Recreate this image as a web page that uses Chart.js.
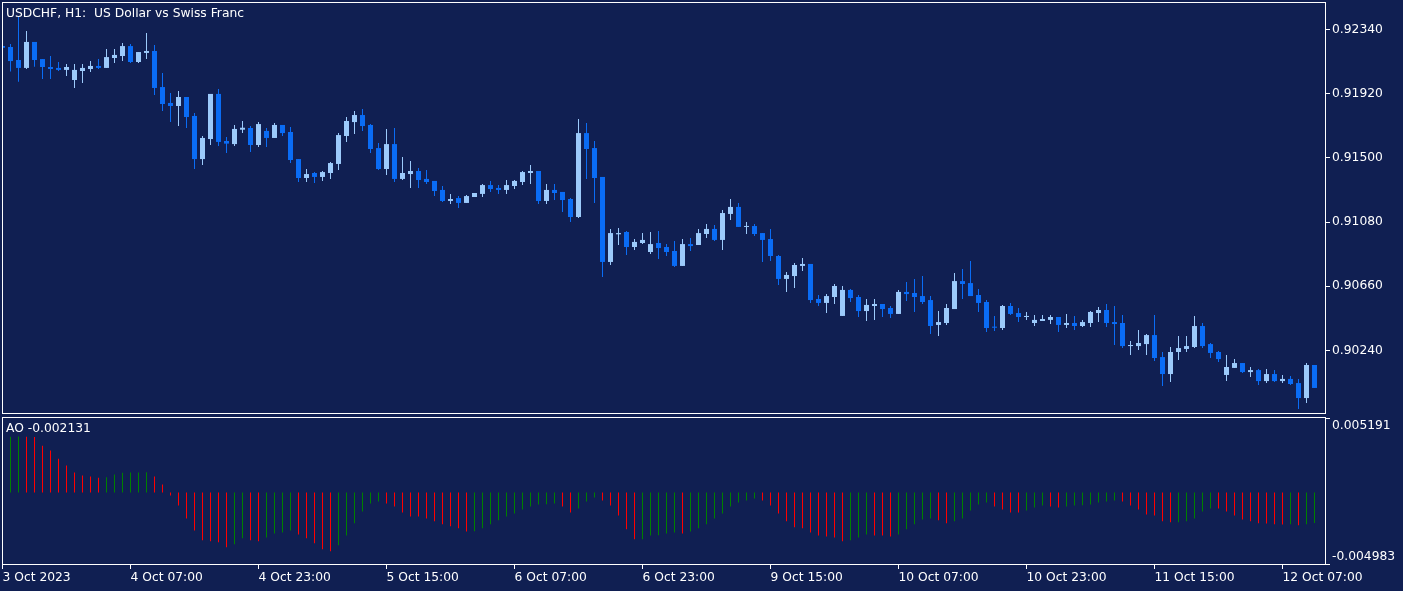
<!DOCTYPE html>
<html>
<head>
<meta charset="utf-8">
<script src="https://cdn.jsdelivr.net/npm/chart.js@4.4.1/dist/chart.umd.min.js"></script>
<style>
  html, body { margin: 0; padding: 0; width: 1403px; height: 591px; overflow: hidden; background: #101f52; }
  canvas { position: absolute; left: 0; }
  #price { top: 0; }
  #ao { top: 415px; }
  .caption { position: absolute; left: 6px; color: #fff; font: 12.3px "DejaVu Sans"; white-space: pre; line-height: 15px; }
</style>
</head>
<body>
<canvas id="price" width="1403" height="415"></canvas>
<canvas id="ao" width="1403" height="176"></canvas>
<div class="caption" style="top:6px">USDCHF, H1:  US Dollar vs Swiss Franc</div>
<div class="caption" style="top:421px">AO -0.002131</div>
<script>
// USDCHF H1, 3 Oct 15:00 .. 12 Oct 11:00 (one entry per hourly bar)
const candleOpen = [
  0.92231, 0.92225, 0.92140, 0.92088, 0.92258, 0.92146, 0.92094, 0.92088, 0.92075, 0.92009,
  0.92068, 0.92081, 0.92101, 0.92088, 0.92153, 0.92166, 0.92231, 0.92127, 0.92186, 0.92199,
  0.91963, 0.91859, 0.91839, 0.91898, 0.91774, 0.91492, 0.91623, 0.91918, 0.91610, 0.91590,
  0.91684, 0.91695, 0.91584, 0.91676, 0.91630, 0.91715, 0.91669, 0.91492, 0.91368, 0.91401,
  0.91375, 0.91401, 0.91460, 0.91643, 0.91734, 0.91780, 0.91715, 0.91564, 0.91427, 0.91590,
  0.91362, 0.91394, 0.91414, 0.91362, 0.91349, 0.91290, 0.91218, 0.91237, 0.91205, 0.91244,
  0.91264, 0.91322, 0.91303, 0.91290, 0.91316, 0.91342, 0.91401, 0.91414, 0.91218, 0.91290,
  0.91277, 0.91231, 0.91113, 0.91662, 0.91564, 0.91375, 0.90819, 0.91000, 0.91015, 0.90917,
  0.90943, 0.90884, 0.90943, 0.90917, 0.90891, 0.90793, 0.90936, 0.90930, 0.91002, 0.91035,
  0.90963, 0.91133, 0.91179, 0.91048, 0.91054, 0.91008, 0.90969, 0.90858, 0.90708, 0.90727,
  0.90793, 0.90806, 0.90577, 0.90551, 0.90590, 0.90466, 0.90636, 0.90590, 0.90498, 0.90531,
  0.90544, 0.90518, 0.90479, 0.90623, 0.90616, 0.90596, 0.90570, 0.90407, 0.90420, 0.90511,
  0.90694, 0.90681, 0.90603, 0.90557, 0.90396, 0.90387, 0.90531, 0.90485, 0.90459, 0.90420,
  0.90433, 0.90440, 0.90459, 0.90407, 0.90420, 0.90400, 0.90420, 0.90485, 0.90505, 0.90426,
  0.90420, 0.90269, 0.90269, 0.90282, 0.90341, 0.90197, 0.90086, 0.90230, 0.90250, 0.90263,
  0.90400, 0.90282, 0.90230, 0.90080, 0.90126, 0.90158, 0.90099, 0.90112, 0.90040, 0.90086,
  0.90040, 0.90054, 0.90027, 0.89929, 0.90145
];
const candleHigh = [
  0.92233, 0.92244, 0.92423, 0.92330, 0.92258, 0.92146, 0.92166, 0.92127, 0.92114, 0.92114,
  0.92114, 0.92133, 0.92146, 0.92212, 0.92212, 0.92251, 0.92244, 0.92192, 0.92316, 0.92238,
  0.92055, 0.91924, 0.91937, 0.91898, 0.91793, 0.91643, 0.91918, 0.91950, 0.91636, 0.91715,
  0.91741, 0.91708, 0.91734, 0.91695, 0.91728, 0.91715, 0.91702, 0.91492, 0.91427, 0.91407,
  0.91414, 0.91473, 0.91662, 0.91767, 0.91806, 0.91819, 0.91721, 0.91597, 0.91689, 0.91695,
  0.91506, 0.91479, 0.91434, 0.91420, 0.91349, 0.91316, 0.91264, 0.91250, 0.91257, 0.91270,
  0.91329, 0.91349, 0.91322, 0.91355, 0.91355, 0.91414, 0.91453, 0.91414, 0.91329, 0.91329,
  0.91277, 0.91237, 0.91754, 0.91728, 0.91610, 0.91375, 0.91035, 0.91041, 0.91022, 0.90969,
  0.91008, 0.91015, 0.91022, 0.90936, 0.90956, 0.90969, 0.90976, 0.91035, 0.91067, 0.91061,
  0.91159, 0.91231, 0.91205, 0.91080, 0.91067, 0.91008, 0.91035, 0.90865, 0.90753, 0.90812,
  0.90845, 0.90806, 0.90603, 0.90609, 0.90675, 0.90662, 0.90642, 0.90603, 0.90577, 0.90577,
  0.90544, 0.90531, 0.90636, 0.90688, 0.90708, 0.90727, 0.90596, 0.90498, 0.90544, 0.90747,
  0.90773, 0.90825, 0.90642, 0.90570, 0.90466, 0.90538, 0.90551, 0.90518, 0.90492, 0.90472,
  0.90472, 0.90472, 0.90459, 0.90479, 0.90466, 0.90440, 0.90498, 0.90525, 0.90544, 0.90531,
  0.90472, 0.90302, 0.90374, 0.90348, 0.90472, 0.90230, 0.90263, 0.90335, 0.90335, 0.90466,
  0.90420, 0.90289, 0.90237, 0.90211, 0.90184, 0.90158, 0.90132, 0.90119, 0.90119, 0.90112,
  0.90080, 0.90073, 0.90054, 0.90158, 0.90145
];
const candleLow = [
  0.92220, 0.92064, 0.91998, 0.92081, 0.92096, 0.92016, 0.92016, 0.92068, 0.92035, 0.91957,
  0.91990, 0.92061, 0.92081, 0.92088, 0.92120, 0.92133, 0.92120, 0.92120, 0.92146, 0.91911,
  0.91806, 0.91734, 0.91708, 0.91695, 0.91427, 0.91453, 0.91584, 0.91577, 0.91532, 0.91577,
  0.91662, 0.91538, 0.91571, 0.91571, 0.91630, 0.91643, 0.91466, 0.91342, 0.91342, 0.91335,
  0.91349, 0.91362, 0.91420, 0.91604, 0.91656, 0.91676, 0.91532, 0.91420, 0.91388, 0.91342,
  0.91355, 0.91303, 0.91303, 0.91329, 0.91250, 0.91211, 0.91198, 0.91172, 0.91205, 0.91244,
  0.91244, 0.91277, 0.91264, 0.91264, 0.91296, 0.91322, 0.91329, 0.91198, 0.91198, 0.91224,
  0.91146, 0.91080, 0.91107, 0.91362, 0.91205, 0.90721, 0.90799, 0.90930, 0.90865, 0.90897,
  0.90936, 0.90871, 0.90838, 0.90858, 0.90786, 0.90793, 0.90891, 0.90930, 0.90976, 0.90956,
  0.90897, 0.91094, 0.91048, 0.91002, 0.90989, 0.90819, 0.90825, 0.90668, 0.90623, 0.90649,
  0.90760, 0.90551, 0.90531, 0.90485, 0.90544, 0.90466, 0.90557, 0.90459, 0.90433, 0.90440,
  0.90459, 0.90453, 0.90479, 0.90564, 0.90492, 0.90544, 0.90348, 0.90335, 0.90407, 0.90511,
  0.90577, 0.90596, 0.90492, 0.90361, 0.90368, 0.90374, 0.90472, 0.90426, 0.90440, 0.90400,
  0.90433, 0.90413, 0.90361, 0.90387, 0.90374, 0.90394, 0.90394, 0.90426, 0.90394, 0.90276,
  0.90256, 0.90211, 0.90243, 0.90211, 0.90171, 0.90008, 0.90034, 0.90178, 0.90230, 0.90256,
  0.90256, 0.90191, 0.90165, 0.90040, 0.90126, 0.90093, 0.90067, 0.90014, 0.90027, 0.90034,
  0.90027, 0.90014, 0.89857, 0.89897, 0.89995
];
const candleClose = [
  0.92220, 0.92133, 0.92088, 0.92258, 0.92140, 0.92094, 0.92081, 0.92075, 0.92094, 0.92075,
  0.92088, 0.92101, 0.92088, 0.92159, 0.92173, 0.92231, 0.92127, 0.92192, 0.92199, 0.91957,
  0.91852, 0.91839, 0.91898, 0.91767, 0.91492, 0.91630, 0.91918, 0.91604, 0.91593, 0.91689,
  0.91697, 0.91584, 0.91721, 0.91630, 0.91715, 0.91662, 0.91486, 0.91368, 0.91394, 0.91375,
  0.91407, 0.91466, 0.91649, 0.91741, 0.91780, 0.91708, 0.91558, 0.91427, 0.91590, 0.91362,
  0.91401, 0.91414, 0.91355, 0.91342, 0.91283, 0.91218, 0.91231, 0.91205, 0.91250, 0.91270,
  0.91322, 0.91296, 0.91290, 0.91322, 0.91349, 0.91407, 0.91414, 0.91218, 0.91290, 0.91270,
  0.91224, 0.91113, 0.91662, 0.91558, 0.91368, 0.90819, 0.91008, 0.91008, 0.90917, 0.90950,
  0.90963, 0.90936, 0.90910, 0.90884, 0.90793, 0.90936, 0.90923, 0.91008, 0.91035, 0.90963,
  0.91139, 0.91179, 0.91048, 0.91054, 0.91002, 0.90963, 0.90858, 0.90708, 0.90734, 0.90799,
  0.90806, 0.90570, 0.90551, 0.90596, 0.90662, 0.90636, 0.90583, 0.90498, 0.90538, 0.90544,
  0.90511, 0.90479, 0.90623, 0.90609, 0.90590, 0.90557, 0.90400, 0.90426, 0.90518, 0.90694,
  0.90675, 0.90596, 0.90551, 0.90387, 0.90389, 0.90531, 0.90479, 0.90459, 0.90466, 0.90440,
  0.90446, 0.90459, 0.90407, 0.90420, 0.90400, 0.90426, 0.90492, 0.90505, 0.90420, 0.90413,
  0.90269, 0.90276, 0.90289, 0.90341, 0.90191, 0.90086, 0.90230, 0.90256, 0.90269, 0.90400,
  0.90269, 0.90224, 0.90184, 0.90132, 0.90158, 0.90099, 0.90112, 0.90040, 0.90086, 0.90040,
  0.90054, 0.90021, 0.89929, 0.90145, 0.89995
];
// Awesome Oscillator, same bars (first one hidden behind the frame)
const aoValues = [
  null, 0.00388, 0.00390, 0.00389, 0.00386, 0.00326, 0.00292, 0.00236, 0.00188, 0.00139,
  0.00118, 0.00111, 0.00103, 0.00106, 0.00125, 0.00138, 0.00139, 0.00140, 0.00141, 0.00111,
  0.00056, -0.00021, -0.00090, -0.00181, -0.00264, -0.00333, -0.00340, -0.00347, -0.00382, -0.00361,
  -0.00319, -0.00333, -0.00340, -0.00313, -0.00285, -0.00278, -0.00264, -0.00292, -0.00319, -0.00354,
  -0.00396, -0.00410, -0.00368, -0.00299, -0.00215, -0.00132, -0.00076, -0.00063, -0.00076, -0.00097,
  -0.00139, -0.00167, -0.00168, -0.00181, -0.00201, -0.00222, -0.00236, -0.00250, -0.00271, -0.00270,
  -0.00250, -0.00222, -0.00194, -0.00167, -0.00146, -0.00118, -0.00097, -0.00083, -0.00082, -0.00076,
  -0.00097, -0.00139, -0.00111, -0.00063, -0.00035, -0.00056, -0.00090, -0.00160, -0.00257, -0.00326,
  -0.00325, -0.00299, -0.00298, -0.00285, -0.00278, -0.00285, -0.00271, -0.00250, -0.00222, -0.00181,
  -0.00146, -0.00097, -0.00069, -0.00056, -0.00042, -0.00056, -0.00090, -0.00146, -0.00201, -0.00243,
  -0.00250, -0.00278, -0.00299, -0.00306, -0.00313, -0.00340, -0.00333, -0.00313, -0.00292, -0.00299,
  -0.00300, -0.00306, -0.00292, -0.00257, -0.00222, -0.00188, -0.00181, -0.00194, -0.00215, -0.00201,
  -0.00181, -0.00125, -0.00083, -0.00069, -0.00097, -0.00118, -0.00139, -0.00140, -0.00125, -0.00104,
  -0.00090, -0.00097, -0.00104, -0.00097, -0.00090, -0.00089, -0.00083, -0.00069, -0.00063, -0.00056,
  -0.00063, -0.00090, -0.00118, -0.00153, -0.00160, -0.00201, -0.00208, -0.00207, -0.00201, -0.00181,
  -0.00132, -0.00111, -0.00112, -0.00132, -0.00160, -0.00188, -0.00201, -0.00215, -0.00216, -0.00222,
  -0.00223, -0.00221, -0.00229, -0.00222, -0.002131
];
const tickBars = [0, 16, 32, 48, 64, 80, 96, 112, 128, 144, 160];
const tickLabels = ['3 Oct 2023', '4 Oct 07:00', '4 Oct 23:00', '5 Oct 15:00', '6 Oct 07:00', '6 Oct 23:00',
  '9 Oct 15:00', '10 Oct 07:00', '10 Oct 23:00', '11 Oct 15:00', '12 Oct 07:00'];
const priceTicks = [0.92340, 0.91920, 0.91500, 0.91080, 0.90660, 0.90240];
const aoTicks = [0.005191, -0.004983];

const BULL = '#9ccafb';
const BEAR = '#0a6cf5';
const AO_UP = '#008000';
const AO_DOWN = '#ff0000';
const INK = '#ffffff';
const FONT = { family: 'DejaVu Sans', size: 12.3 };

// 8 px per bar, first bar centred on the left frame line
const X_MIN = 0.0625;
const X_MAX = 165.3125;

const idx = candleOpen.map((_, i) => i);
const candleColors = idx.map(i => candleClose[i] >= candleOpen[i] ? BULL : BEAR);
const aoColors = idx.map(i => (i === 0 || aoValues[i - 1] == null || aoValues[i] >= aoValues[i - 1]) ? AO_UP : AO_DOWN);

const frame = {
  id: 'frame',
  afterDraw(chart) {
    const { ctx, chartArea: a } = chart;
    ctx.save();
    ctx.strokeStyle = INK;
    ctx.lineWidth = 1;
    ctx.strokeRect(a.left - 0.5, a.top - 0.5, a.right - a.left + 1, a.bottom - a.top + 1);
    ctx.restore();
  }
};

function fixedY(w) {
  return (s) => { s.width = w; s.paddingTop = 0; s.paddingBottom = 0; };
}

new Chart(document.getElementById('price'), {
  type: 'bar',
  data: {
    datasets: [
      {
        data: idx.map(i => ({ x: i, y: [candleOpen[i], candleClose[i]] })),
        backgroundColor: candleColors,
        borderColor: candleColors,
        barThickness: 5,
        minBarLength: 1,
        inflateAmount: 0,
        borderWidth: 0,
        grouped: false,
        clip: 0
      },
      {
        data: idx.map(i => ({ x: i, y: [candleLow[i], candleHigh[i]] })),
        backgroundColor: candleColors,
        borderColor: candleColors,
        barThickness: 1,
        minBarLength: 1,
        inflateAmount: 0,
        borderWidth: 0,
        grouped: false,
        clip: 0
      }
    ]
  },
  options: {
    responsive: false,
    animation: false,
    devicePixelRatio: 1,
    events: [],
    layout: { padding: { left: 3, top: 3, right: 0, bottom: 2 } },
    plugins: { legend: { display: false }, tooltip: { enabled: false } },
    scales: {
      x: {
        type: 'linear',
        min: X_MIN,
        max: X_MAX,
        offset: false,
        display: false,
        grid: { offset: false }
      },
      y: {
        type: 'linear',
        position: 'right',
        min: 0.898312,
        max: 0.925127,
        afterBuildTicks: (s) => { s.ticks = priceTicks.map(v => ({ value: v })); },
        afterFit: fixedY(78),
        grid: { drawOnChartArea: false, drawTicks: true, tickLength: 5, color: INK },
        border: { display: false },
        ticks: { color: INK, font: FONT, padding: 2, callback: (v) => v.toFixed(5) }
      }
    }
  },
  plugins: [frame]
});

new Chart(document.getElementById('ao'), {
  type: 'bar',
  data: {
    datasets: [{
      data: idx.map(i => ({ x: i, y: aoValues[i] })),
      backgroundColor: aoColors,
      borderColor: aoColors,
      barThickness: 1,
      inflateAmount: 0,
      borderWidth: 0,
      grouped: false,
      clip: 0
    }]
  },
  options: {
    responsive: false,
    animation: false,
    devicePixelRatio: 1,
    events: [],
    layout: { padding: { left: 3, top: 3, right: 0, bottom: 0 } },
    plugins: { legend: { display: false }, tooltip: { enabled: false } },
    scales: {
      x: {
        type: 'linear',
        min: X_MIN,
        max: X_MAX,
        offset: false,
        afterBuildTicks: (s) => { s.ticks = tickBars.map(v => ({ value: v })); },
        afterFit: (s) => { s.height = 27; s.paddingLeft = 0; s.paddingRight = 0; },
        grid: { offset: false, drawOnChartArea: false, drawTicks: true, tickLength: 5, color: INK },
        border: { display: false },
        ticks: {
          color: INK, font: FONT, padding: 1, align: 'start',
          autoSkip: false, maxRotation: 0, minRotation: 0,
          callback: (v, i) => tickLabels[i]
        }
      },
      y: {
        type: 'linear',
        position: 'right',
        min: aoTicks[1],
        max: aoTicks[0],
        afterBuildTicks: (s) => { s.ticks = aoTicks.map(v => ({ value: v })); },
        afterFit: fixedY(78),
        grid: { drawOnChartArea: false, drawTicks: true, tickLength: 5, color: INK },
        border: { display: false },
        ticks: {
          color: INK, font: FONT, padding: 2,
          // top label hangs below its tick, bottom label sits above its tick
          callback: (v) => v > 0 ? ['', v.toFixed(6)] : [v.toFixed(6), '']
        }
      }
    }
  },
  plugins: [frame]
});
</script>
</body>
</html>
